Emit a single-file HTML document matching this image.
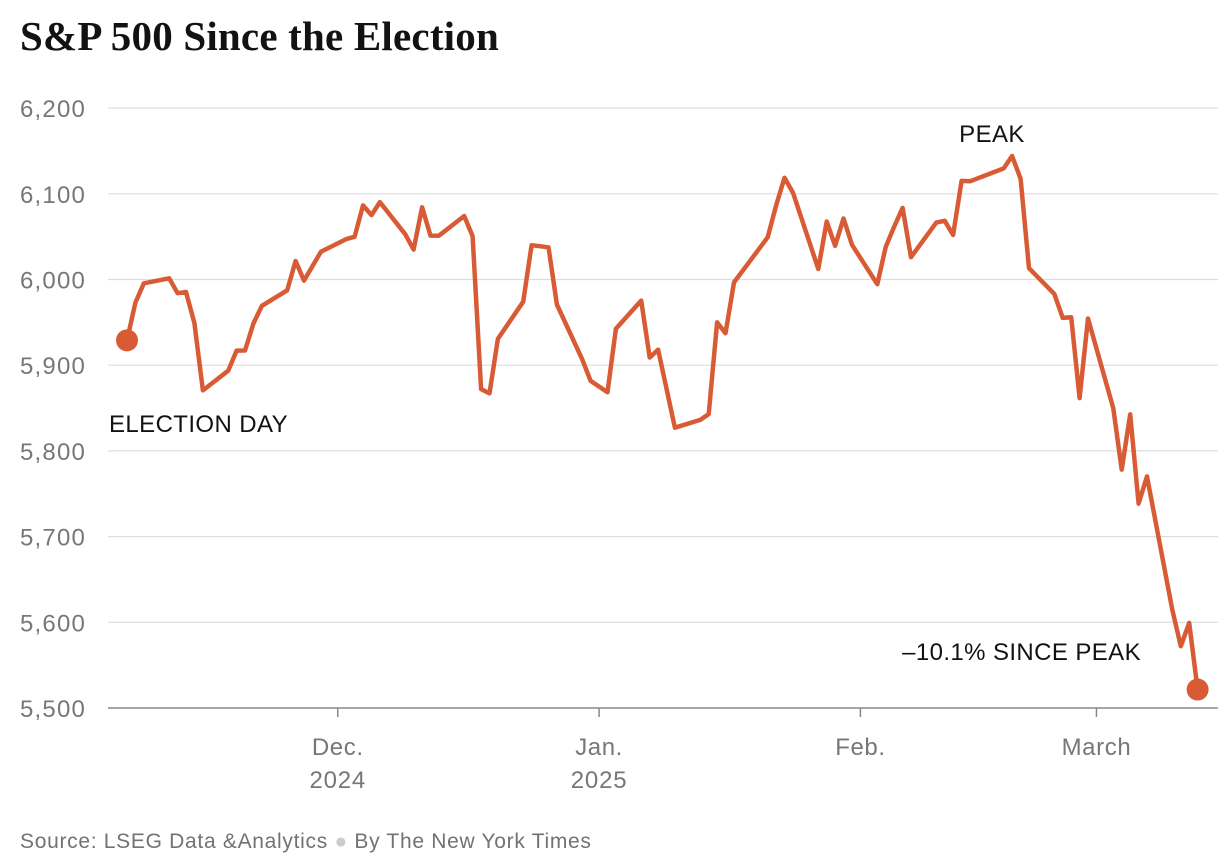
<!DOCTYPE html>
<html><head><meta charset="utf-8">
<style>
body{margin:0;background:#fff;width:1230px;height:868px;overflow:hidden;font-family:"Liberation Sans",sans-serif;}
#title{position:absolute;left:20px;top:12px;font-family:"Liberation Serif",serif;font-weight:bold;font-size:41px;color:#121212;letter-spacing:0.2px;}
#footer{position:absolute;left:20px;top:830px;font-size:21px;color:#727272;letter-spacing:0.7px;}
svg{position:absolute;left:0;top:0;}
</style></head><body>
<div id="title">S&amp;P 500 Since the Election</div>
<svg id="chart" width="1230" height="868"></svg>
<div id="footer">Source: LSEG Data &amp;Analytics <span style="color:#ccc">●</span> By The New York Times</div>
<script>
const dates=["2024-11-06","2024-11-07","2024-11-08","2024-11-11","2024-11-12","2024-11-13","2024-11-14","2024-11-15","2024-11-18","2024-11-19","2024-11-20","2024-11-21","2024-11-22","2024-11-25","2024-11-26","2024-11-27","2024-11-29","2024-12-02","2024-12-03","2024-12-04","2024-12-05","2024-12-06","2024-12-09","2024-12-10","2024-12-11","2024-12-12","2024-12-13","2024-12-16","2024-12-17","2024-12-18","2024-12-19","2024-12-20","2024-12-23","2024-12-24","2024-12-26","2024-12-27","2024-12-30","2024-12-31","2025-01-02","2025-01-03","2025-01-06","2025-01-07","2025-01-08","2025-01-10","2025-01-13","2025-01-14","2025-01-15","2025-01-16","2025-01-17","2025-01-21","2025-01-22","2025-01-23","2025-01-24","2025-01-27","2025-01-28","2025-01-29","2025-01-30","2025-01-31","2025-02-03","2025-02-04","2025-02-05","2025-02-06","2025-02-07","2025-02-10","2025-02-11","2025-02-12","2025-02-13","2025-02-14","2025-02-18","2025-02-19","2025-02-20","2025-02-21","2025-02-24","2025-02-25","2025-02-26","2025-02-27","2025-02-28","2025-03-03","2025-03-04","2025-03-05","2025-03-06","2025-03-07","2025-03-10","2025-03-11","2025-03-12","2025-03-13"];
const closes=[5929.04,5973.10,5995.54,6001.35,5983.99,5985.38,5949.17,5870.62,5893.62,5916.98,5917.11,5948.71,5969.34,5987.37,6021.63,5998.74,6032.38,6047.15,6049.88,6086.49,6075.11,6090.27,6052.85,6034.91,6084.19,6051.25,6051.09,6074.08,6050.61,5872.16,5867.08,5930.85,5974.07,6040.04,6037.59,5970.84,5906.94,5881.63,5868.55,5942.47,5975.38,5909.03,5918.25,5827.04,5836.22,5842.91,5949.91,5937.34,5996.66,6049.24,6086.37,6118.71,6101.24,6012.28,6067.70,6039.31,6071.17,6040.53,5994.57,6037.88,6061.48,6083.57,6025.99,6066.44,6068.50,6051.97,6115.07,6114.63,6129.58,6144.15,6117.52,6013.13,5983.25,5955.25,5956.06,5861.57,5954.50,5849.72,5778.15,5842.63,5738.52,5770.20,5614.56,5572.07,5599.30,5521.52];
const yTicks=[5500,5600,5700,5800,5900,6000,6100,6200];
const yTickLabels=["5,500","5,600","5,700","5,800","5,900","6,000","6,100","6,200"];
const monthTicks=["2024-12-01","2025-01-01","2025-02-01","2025-03-01"];
const monthLabels=[["Dec.","2024"],["Jan.","2025"],["Feb.",""],["March",""]];

const NS="http://www.w3.org/2000/svg";
const svg=document.getElementById('chart');
const t0=Date.UTC(2024,10,6);
function dayOf(s){const p=s.split('-');return (Date.UTC(+p[0],+p[1]-1,+p[2])-t0)/86400000;}
function x(s){return 127+dayOf(s)*8.43;}
function y(v){return 708-(v-5500)*0.857;}
function mk(tag,attrs,name){const e=document.createElementNS(NS,tag);for(const k in attrs)e.setAttribute(k,attrs[k]);


svg.appendChild(e);return e;}
yTicks.forEach((v,i)=>{
  mk('line',{x1:108,x2:1218,y1:y(v),y2:y(v),stroke:i==0?'#888':'#ddd','stroke-width':i==0?1.5:1.2},i==0?'x-axis-line':'gridline');
  const t=mk('text',{x:20,y:y(v)+9,'font-size':24,fill:'#777','letter-spacing':1.2},'y-tick-label');t.textContent=yTickLabels[i];
});
monthTicks.forEach((m,i)=>{
  mk('line',{x1:x(m),x2:x(m),y1:708,y2:717,stroke:'#888','stroke-width':1.5},'x-tick');
  const a=mk('text',{x:x(m),y:755,'font-size':24,fill:'#777','text-anchor':'middle','letter-spacing':0.6},'x-tick-label');a.textContent=monthLabels[i][0];
  if(monthLabels[i][1]){const b=mk('text',{x:x(m),y:788,'font-size':24,fill:'#777','text-anchor':'middle','letter-spacing':0.8},'x-tick-year');b.textContent=monthLabels[i][1];}
});
const d=dates.map((s,i)=>(i?'L':'M')+x(s).toFixed(1)+','+y(closes[i]).toFixed(1)).join('');
mk('path',{d:d,fill:'none',stroke:'#d95b35','stroke-width':4.5,'stroke-linejoin':'round','stroke-linecap':'round'},'sp500-line');
const n=dates.length-1;
mk('circle',{cx:x(dates[0]),cy:y(closes[0]),r:11,fill:'#d95b35'},'election-day-point');
mk('circle',{cx:x(dates[n]),cy:y(closes[n]),r:11,fill:'#d95b35'},'latest-point');
const a1=mk('text',{x:109,y:432,'font-size':24,fill:'#121212','letter-spacing':0.4},'election-day-label');a1.textContent='ELECTION DAY';
const a2=mk('text',{x:992,y:142,'font-size':24,fill:'#121212','text-anchor':'middle','letter-spacing':0.4},'peak-label');a2.textContent='PEAK';
const a3=mk('text',{x:1141,y:660,'font-size':24,fill:'#121212','text-anchor':'end','letter-spacing':0.4},'decline-label');a3.textContent='–10.1% SINCE PEAK';
</script>
</body></html>
